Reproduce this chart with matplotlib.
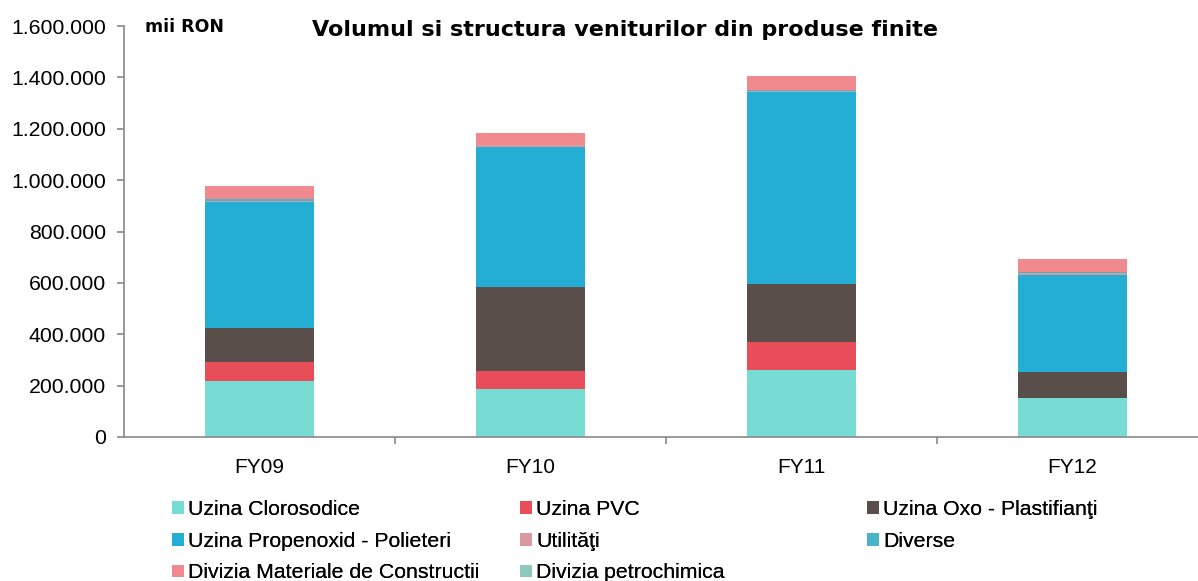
import matplotlib
matplotlib.use("Agg")
import matplotlib.pyplot as plt
import numpy as np
from matplotlib.patches import Patch
from matplotlib.ticker import FuncFormatter, FixedLocator

plt.rcParams['font.family'] = ['Liberation Sans', 'DejaVu Sans']

categories = ["FY09", "FY10", "FY11", "FY12"]
series_names = ["Uzina Clorosodice", "Uzina PVC", "Uzina Oxo - Plastifianţi",
                "Uzina Propenoxid - Polieteri", "Utilităţi", "Diverse",
                "Divizia Materiale de Constructii", "Divizia petrochimica"]
clorosodice = [218000, 187000, 261000, 152000]
pvc = [74000, 70000, 109000, 0]
oxo = [132000, 327000, 226000, 101000]
propenoxid = [490000, 545000, 747000, 378000]
utilitati = [6000, 6000, 4000, 8000]
diverse = [5000, 3000, 2000, 2000]
materiale = [52000, 45000, 56000, 52000]
petrochimica = [0, 0, 0, 0]
colors = ["#77DCD4", "#E84D5A", "#594E49", "#24AED3", "#D9999E", "#4AB3C9",
          "#F08A8F", "#8CC8BD"]

series = [clorosodice, pvc, oxo, propenoxid, utilitati, diverse, materiale, petrochimica]

fig = plt.figure(figsize=(11.98, 5.81), dpi=100)
W, H = 1198, 581
left, right, top, bottom = 124, 1208, 26, 437
ax = fig.add_axes([left / W, 1 - bottom / H, (right - left) / W, (bottom - top) / H])

x = np.arange(len(categories))
base = np.zeros(len(categories))
handles = []
for name, vals, c in zip(series_names, series, colors):
    v = np.array(vals, dtype=float)
    ax.bar(x, v, 0.4, bottom=base, color=c, edgecolor='none', zorder=2)
    base += v
    handles.append(Patch(facecolor=c, edgecolor='none', label=name))

ax.set_xlim(-0.5, len(categories) - 0.5)
ax.set_ylim(0, 1600000)
ax.set_yticks(np.arange(0, 1600001, 200000))
ax.yaxis.set_major_formatter(FuncFormatter(lambda v, p: f"{int(v):,}".replace(",", ".")))
ax.set_xticks(x)
ax.set_xticklabels(categories)
ax.xaxis.set_minor_locator(FixedLocator(np.arange(0.5, len(categories) - 0.5, 1)))
ax.tick_params(axis='x', which='major', length=0, labelsize=15, pad=15)
ax.tick_params(axis='x', which='minor', length=5, direction='out', color='#888888', width=1.2)
ax.tick_params(axis='y', length=5, direction='out', color='#888888', width=1.2, labelsize=15.3, pad=8)
for s in ['top', 'right']:
    ax.spines[s].set_visible(False)
for s in ['left', 'bottom']:
    ax.spines[s].set_color('#888888')
    ax.spines[s].set_linewidth(1.2)

fig.text(145 / W, 1 - 27 / H, "mii RON", fontsize=12.5, fontweight='bold', va='center', ha='left',
         family='DejaVu Sans')
fig.text(625 / W, 1 - 30 / H, "Volumul si structura veniturilor din produse finite",
         fontsize=16, fontweight='bold', va='center', ha='center', family='DejaVu Sans')

# legend: three equal-width columns, filled row by row
col_x = [172, 520, 867]
ncol = 3
for ci, cx in enumerate(col_x):
    idx = list(range(ci, len(handles), ncol))
    lg = fig.legend([handles[i] for i in idx], [series_names[i] for i in idx],
                    loc='upper left', bbox_to_anchor=(cx / W, 1 - 500 / H),
                    frameon=False, fontsize=15.3, handlelength=0.55, handleheight=0.55,
                    handletextpad=0.2, labelspacing=0.6,
                    borderaxespad=0, borderpad=0)
    fig.add_artist(lg)

fig.savefig("out.png", dpi=100)
